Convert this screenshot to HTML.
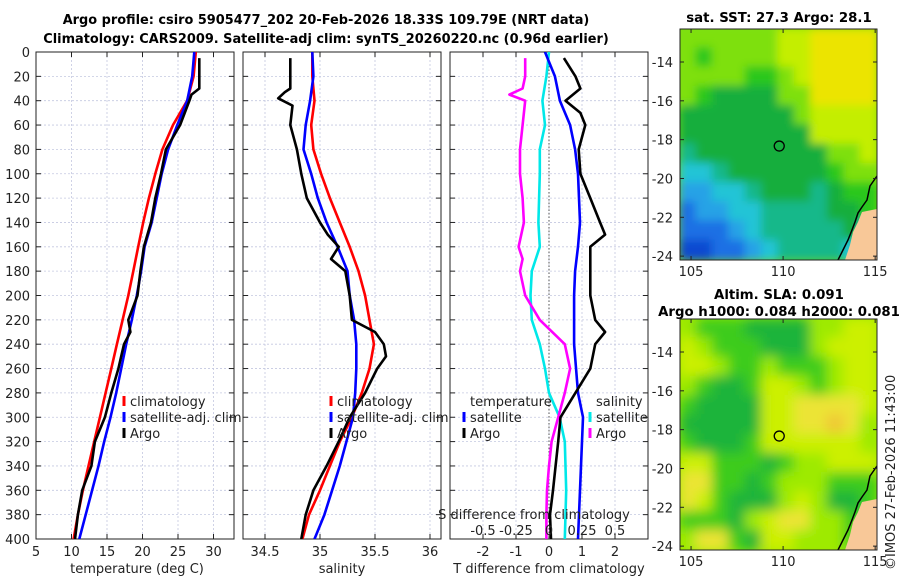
<!DOCTYPE html>
<html><head><meta charset="utf-8"><style>
body{margin:0;background:#fff}
svg{display:block;font-family:"DejaVu Sans","Liberation Sans",sans-serif}
</style></head><body>
<svg id="s" width="900" height="580" viewBox="0 0 900 580">
<defs>
<clipPath id="c1"><rect x="36" y="52" width="198" height="487"/></clipPath>
<clipPath id="c2"><rect x="243" y="52" width="198" height="487"/></clipPath>
<clipPath id="c3"><rect x="450" y="52" width="198" height="487"/></clipPath>
<clipPath id="m1"><rect x="680" y="29" width="197" height="231"/></clipPath>
<clipPath id="m2"><rect x="680" y="319" width="197" height="231"/></clipPath>
<filter id="bl" x="-5%" y="-5%" width="110%" height="110%"><feGaussianBlur stdDeviation="4.5"/></filter>
<filter id="bl2" x="-5%" y="-5%" width="110%" height="110%"><feGaussianBlur stdDeviation="6"/></filter>
</defs>
<text x="326" y="24" text-anchor="middle" font-weight="bold" font-size="12.9">Argo profile: csiro 5905477_202 20-Feb-2026 18.33S 109.79E (NRT data)</text>
<text x="326" y="43" text-anchor="middle" font-weight="bold" font-size="12.9">Climatology: CARS2009. Satellite-adj clim: synTS_20260220.nc (0.96d earlier)</text>
<text x="779" y="22" text-anchor="middle" font-weight="bold" font-size="13.3">sat. SST: 27.3 Argo: 28.1</text>
<text x="779" y="299" text-anchor="middle" font-weight="bold" font-size="13.3">Altim. SLA: 0.091</text>
<text x="779" y="316" text-anchor="middle" font-weight="bold" font-size="13.3">Argo h1000: 0.084 h2000: 0.081</text>
<text transform="translate(895,570) rotate(-90)" font-size="13" fill="#222">©IMOS 27-Feb-2026 11:43:00</text>
<g id="g"></g>
</svg>
<script>
// ---- profile data ----
const depthGrid=[0,20,40,60,80,100,120,140,160,180,200,220,240,260,280,300,320,340,360,380,400];
const tempClim=[27.5,27.2,26.3,24.3,22.8,21.8,20.9,20.1,19.4,18.7,18.0,17.2,16.4,15.6,14.8,14.0,13.2,12.4,11.6,10.9,10.3];
const tempSat=[27.3,27.0,26.3,24.9,23.6,22.7,22.0,21.3,20.3,19.8,19.2,18.5,17.7,17.0,16.3,15.5,14.6,13.8,12.9,12.0,11.1];
const argoTDepth=[5,20,30,35,40,60,80,100,120,140,160,180,200,220,230,240,260,280,300,320,340,360,380,400];
const argoTemp=[28.0,28.0,28.0,26.9,26.6,25.3,23.3,22.6,21.8,21.2,20.2,19.7,19.3,18.0,18.3,17.4,16.6,15.6,14.7,13.3,12.8,11.5,10.9,10.5];
const salClim=[34.93,34.93,34.95,34.92,34.94,35.01,35.09,35.18,35.27,35.35,35.41,35.45,35.49,35.45,35.38,35.29,35.18,35.09,35.0,34.9,34.84];
const salSat=[34.93,34.94,34.91,34.87,34.85,34.92,34.98,35.06,35.16,35.25,35.27,35.31,35.33,35.33,35.32,35.3,35.24,35.18,35.11,35.04,34.95];
const argoSDepth=[5,30,33,38,44,60,70,80,100,120,140,150,160,170,180,200,220,230,240,250,260,280,300,320,340,360,380,400];
const argoSal=[34.73,34.73,34.68,34.62,34.75,34.73,34.76,34.79,34.83,34.88,35.0,35.07,35.17,35.1,35.23,35.27,35.29,35.5,35.58,35.6,35.52,35.41,35.27,35.17,35.06,34.94,34.87,34.83];
const dTDepth=[5,20,30,40,50,60,80,100,120,140,150,160,180,200,220,230,240,260,280,300,320,340,360,380,400];
const dTArgo=[0.45,0.8,0.95,0.5,0.95,1.1,0.9,0.95,1.25,1.55,1.7,1.25,1.25,1.25,1.4,1.7,1.4,1.25,0.8,0.35,0.28,0.2,0.12,0.03,0.06];
const dTSatDepth=[0,20,40,60,80,100,140,160,180,200,240,280,300,320,360,400];
const dTSat=[-0.12,0.18,0.33,0.64,0.79,0.88,0.94,0.88,0.79,0.76,0.76,0.88,1.03,1.0,0.94,0.88];
const dSDepth=[5,20,30,35,40,60,80,100,120,140,160,170,180,200,220,240,260,280,300,320,340,360,380,400];
const dSArgo=[-0.18,-0.18,-0.2,-0.3,-0.18,-0.2,-0.22,-0.22,-0.2,-0.19,-0.23,-0.2,-0.22,-0.18,-0.07,0.12,0.16,0.12,0.07,0.02,0.0,-0.015,-0.02,-0.02];
const dSSatDepth=[0,20,40,60,80,100,140,160,180,200,220,240,260,280,300,320,360,400];
const dSSat=[0.0,-0.02,-0.05,-0.03,-0.07,-0.07,-0.08,-0.07,-0.13,-0.14,-0.13,-0.07,-0.03,0.0,0.08,0.12,0.13,0.12];
const yTicks=[0,20,40,60,80,100,120,140,160,180,200,220,240,260,280,300,320,340,360,380,400];
const tTicks=[5,10,15,20,25,30];
const sTicks=[34.5,35,35.5,36];
const sTickLabels=['34.5','35','35.5','36'];
const dtTicks=[-2,-1,0,1,2];
const dsTicks=[-0.5,-0.25,0,0.25,0.5];
const dsTickLabels=['-0.5','-0.25','0','0.25','0.5'];
// ---- map data (coarse grids, rows north->south) ----
const sstRows=["777777889999","767777889999","777766789999","765555779999","555555578888","555555558888","455555555778","334555555677","223345554566","122334444556","111234444452","001123444433"];
const slaRows=["322211113344","432221113444","443223222344","321124432344","211114455554","111114455653","211124444443","442221233444","552212333222","542111343112","222134553322","355214433322"];
const sstColors=["#0848d0","#1a70e4","#28a2e6","#22c4d6","#14b88a","#12ae3e","#2cc81c","#7ee00c","#c4ee00","#ece400","#f2d400"];
const slaColors=["#18a860","#1cb43a","#3ccc1a","#9eea00","#ccf000","#ece434","#f0c636"];
const latTicks=[-14,-16,-18,-20,-22,-24];
const lonTicks=[105,110,115];
const floatLon=109.79, floatLat=-18.33;

const NS='http://www.w3.org/2000/svg', G=document.getElementById('g');
function el(t,a,p){const e=document.createElementNS(NS,t);for(const k in a)e.setAttribute(k,a[k]);(p||G).appendChild(e);return e;}
const yD=d=>52+d*1.2175;
const xT=t=>36+(t-5)*7.1;
const xS=s=>265+(s-34.5)*110;
const xDT=v=>549+33*v;
const xDS=v=>549+132*v;
const panels=[{x:36,clip:'c1'},{x:243,clip:'c2'},{x:450,clip:'c3'}];
const W=198,Y0=52,Y1=539;

function line(xs,ds,fx,col,clip,name){
  const pts=xs.map((v,i)=>fx(v).toFixed(1)+','+yD(ds[i]).toFixed(1)).join(' ');
  const p=el('polyline',{points:pts,fill:'none',stroke:col,'stroke-width':2.6,'stroke-linejoin':'round','clip-path':'url(#'+clip+')'});
  
  
}
panels.forEach((P,pi)=>{
  const grid=el('g',{stroke:'#c4c8e0','stroke-width':0.8,'stroke-dasharray':'2,2'});
  
  
  yTicks.forEach(d=>{if(d>0&&d<400)el('line',{x1:P.x,x2:P.x+W,y1:yD(d),y2:yD(d)},grid);});
  let xs = pi==0?tTicks.map(xT):pi==1?sTicks.map(xS):dtTicks.map(xDT);
  xs.forEach(x=>{if(x>P.x&&x<P.x+W)el('line',{x1:x,x2:x,y1:Y0,y2:Y1},grid);});
  const ax=el('g',{stroke:'#222','stroke-width':1});
  
  
  el('rect',{x:P.x,y:Y0,width:W,height:Y1-Y0,fill:'none'},ax);
  yTicks.forEach(d=>{el('line',{x1:P.x,x2:P.x+5,y1:yD(d),y2:yD(d)},ax);el('line',{x1:P.x+W-5,x2:P.x+W,y1:yD(d),y2:yD(d)},ax);});
  xs.forEach(x=>{el('line',{x1:x,x2:x,y1:Y1,y2:Y1-5},ax);el('line',{x1:x,x2:x,y1:Y0,y2:Y0+5},ax);});
});
yTicks.forEach(d=>{const t=el('text',{x:30,y:yD(d)+5,'text-anchor':'end','font-size':13,fill:'#222'});t.textContent=d;
  
  });
function xlab(x,txt,y,name){const t=el('text',{x:x,y:y,'text-anchor':'middle','font-size':13,fill:'#222'});t.textContent=txt;
  
  return t;}
tTicks.forEach(v=>xlab(xT(v),v,556,'temperature-tick-label'));
sTicks.forEach((v,i)=>xlab(xS(v),sTickLabels[i],556,'salinity-tick-label'));
dtTicks.forEach(v=>xlab(xDT(v),v,556,'t-diff-tick-label'));
xlab(137,'temperature (deg C)',573,'temperature-axis-title');
xlab(342,'salinity',573,'salinity-axis-title');
xlab(549,'T difference from climatology',573,'t-diff-axis-title');
const z=el('line',{x1:549,x2:549,y1:Y0,y2:Y1,stroke:'#555','stroke-width':1,'stroke-dasharray':'1.5,2'});


line(tempClim,depthGrid,xT,'#f00','c1','temp-climatology-line');
line(tempSat,depthGrid,xT,'#00f','c1','temp-satellite-line');
line(argoTemp,argoTDepth,xT,'#000','c1','temp-argo-line');
line(salClim,depthGrid,xS,'#f00','c2','sal-climatology-line');
line(salSat,depthGrid,xS,'#00f','c2','sal-satellite-line');
line(argoSal,argoSDepth,xS,'#000','c2','sal-argo-line');
line(dSSat,dSSatDepth,xDS,'#00e8e8','c3','sdiff-satellite-line');
line(dSArgo,dSDepth,xDS,'#f0f','c3','sdiff-argo-line');
line(dTSat,dTSatDepth,xDT,'#00f','c3','tdiff-satellite-line');
line(dTArgo,dTDepth,xDT,'#000','c3','tdiff-argo-line');
xlab(534,'S difference from climatology',519,'s-diff-axis-title');
dsTicks.forEach((v,i)=>xlab(xDS(v),dsTickLabels[i],535,'s-diff-tick-label'));
function leg(x,y,col,txt,name){
  const g=el('g',{});
  
  
  if(col)el('line',{x1:x,x2:x,y1:y-10,y2:y,stroke:col,'stroke-width':3},g);
  const t=el('text',{x:x+6,y:y,'font-size':13,fill:'#222'},g);t.textContent=txt;
}
[[124,'c'],[331,'s']].forEach(([x])=>{
  leg(x,406,'#f00','climatology','legend-climatology');
  leg(x,422,'#00f','satellite-adj. clim','legend-satellite-adj');
  leg(x,438,'#000','Argo','legend-argo');
});
leg(464,406,null,'temperature','legend-temperature-header');
leg(464,422,'#00f','satellite','legend-t-satellite');
leg(464,438,'#000','Argo','legend-t-argo');
leg(590,406,null,'salinity','legend-salinity-header');
leg(590,422,'#00e8e8','satellite','legend-s-satellite');
leg(590,438,'#f0f','Argo','legend-s-argo');
function drawMap(rows,cols,top,clip,name,blur){
  const L0=104.4,L1=115.1,T0=-12.3,T1=-24.2;
  const px=lon=>680+(lon-L0)/(L1-L0)*197;
  const py=lat=>top+(lat-T0)/(T1-T0)*231;
  const g=el('g',{'clip-path':'url(#'+clip+')'});
  
  
  el('rect',{x:680,y:top,width:197,height:231,fill:cols[parseInt(rows[0][0],16)]},g);
  const hg=el('g',{filter:'url(#'+blur+')'},g);
  const nr=rows.length,nc=rows[0].length,cw=197/nc,ch=231/nr;
  rows.forEach((r,i)=>{for(let j=0;j<nc;j++){
    const c=el('rect',{x:680+j*cw-1,y:top+i*ch-1,width:cw+2,height:ch+2,fill:cols[parseInt(r[j],16)]},hg);
    
    
  }});
  const land=el('polygon',{points:`877,${top+180} 862,${top+183} 858,${top+193} 853,${top+203} 850,${top+216} 845,${top+231} 877,${top+231}`,fill:'#f8c898'},g);
  
  
  const cst=el('polyline',{points:`877,${top+147} 870,${top+157} 867,${top+171} 862,${top+178} 858,${top+184} 855,${top+193} 852,${top+201} 848,${top+211} 843,${top+221} 838,${top+231}`,fill:'none',stroke:'#000','stroke-width':1.5},g);
  
  
  const fr=el('rect',{x:680,y:top,width:197,height:231,fill:'none',stroke:'#222','stroke-width':1});
  
  
  latTicks.forEach(l=>{const y=py(l);el('line',{x1:680,x2:684,y1:y,y2:y,stroke:'#222'});el('line',{x1:873,x2:877,y1:y,y2:y,stroke:'#222'});
    const t=el('text',{x:673,y:y+5,'text-anchor':'end','font-size':13,fill:'#222'});t.textContent=l;
    
    });
  lonTicks.forEach(l=>{const x=px(l);el('line',{x1:x,x2:x,y1:top+231,y2:top+227,stroke:'#222'});el('line',{x1:x,x2:x,y1:top,y2:top+4,stroke:'#222'});
    const t=el('text',{x:x,y:top+247,'text-anchor':'middle','font-size':13,fill:'#222'});t.textContent=l;
    
    });
  const m=el('circle',{cx:px(floatLon),cy:py(floatLat),r:5,fill:'none',stroke:'#000','stroke-width':1.3});
  
  
}
drawMap(sstRows,sstColors,29,'m1','sst-map','bl');
drawMap(slaRows,slaColors,319,'m2','sla-map','bl2');
</script>
</body></html>
